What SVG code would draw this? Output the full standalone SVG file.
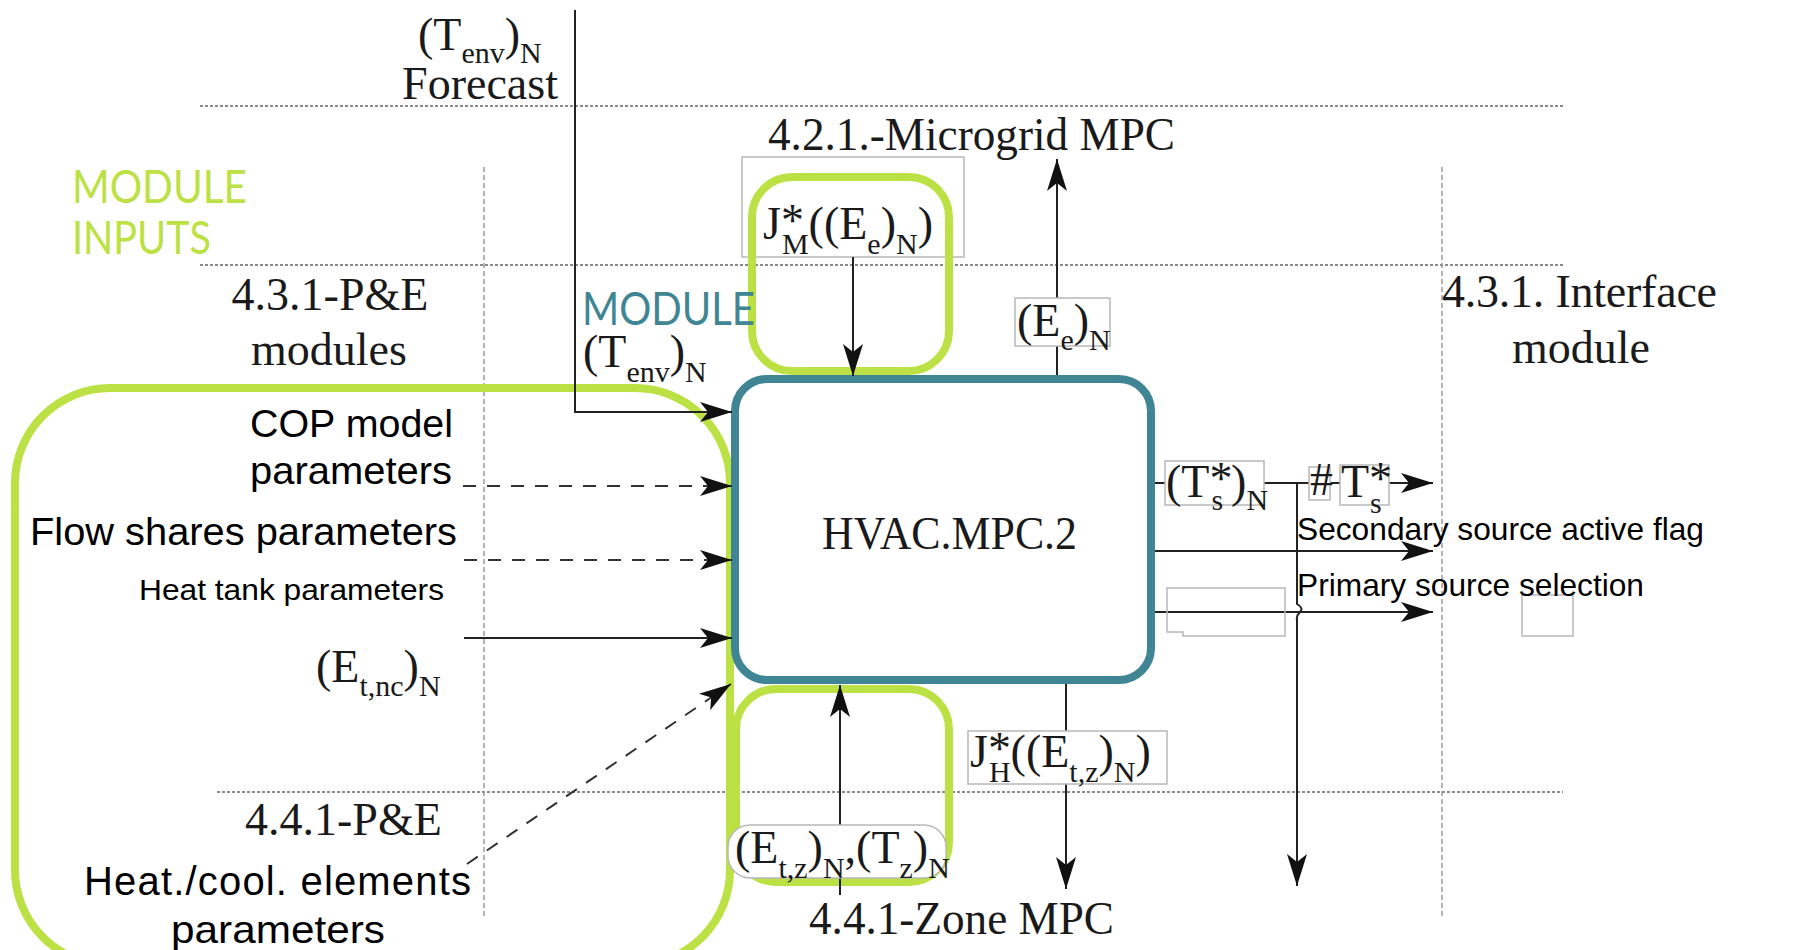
<svg xmlns="http://www.w3.org/2000/svg" width="1800" height="950" viewBox="0 0 1800 950">
<style>
.tm{font-family:"Liberation Serif","Times New Roman",serif;font-size:46px;fill:#1a1a1a}
.sub{font-size:30px}
.ss{font-family:"Liberation Sans",Arial,sans-serif;fill:#000}
.mod{font-family:Lato,"Liberation Sans",sans-serif;font-size:46px}
.dot{stroke:#8a8a8a;stroke-width:2;stroke-dasharray:3 2;fill:none}
.vd{stroke:#9a9a9a;stroke-width:1.5;stroke-dasharray:5 3;fill:none}
.ln{stroke:#222;stroke-width:2;fill:none}
.dash{stroke:#333;stroke-width:2;fill:none;stroke-dasharray:13 11}
.lbl{fill:#fff;stroke:#b8b8b8;stroke-width:1.5}
.gb{fill:none;stroke:#b8b8b8;stroke-width:1.5}
.green{fill:none;stroke:#BCE144;stroke-width:8}
.teal{fill:#fff;stroke:#3F8593;stroke-width:8}
</style>
<defs>
<marker id="arr" markerUnits="userSpaceOnUse" markerWidth="34" markerHeight="22" refX="32" refY="10" orient="auto">
<path d="M0,0 L32,10 L0,20 L8,10 Z" fill="#111" stroke="none"/>
</marker>
</defs>
<rect width="1800" height="950" fill="#fff"/>

<g id="grid">
<line class="dot" x1="200" y1="106" x2="1563" y2="106"/>
<line class="dot" x1="200" y1="265" x2="1563" y2="265"/>
<line class="dot" x1="217" y1="792" x2="1563" y2="792"/>
<line class="vd" x1="484" y1="167" x2="484" y2="918"/>
<line class="vd" x1="1442" y1="167" x2="1442" y2="918"/>
</g>

<g id="module-inputs">
<rect class="green" x="15" y="388" width="715" height="577" rx="95"/>
<text class="mod" x="72" y="203" fill="#BCE144" textLength="175" lengthAdjust="spacingAndGlyphs">MODULE</text>
<text class="mod" x="72" y="254" fill="#BCE144" textLength="139" lengthAdjust="spacingAndGlyphs">INPUTS</text>
</g>

<g id="microgrid-input">
<rect class="gb" x="742" y="157" width="222" height="100"/>
<rect class="green" x="752" y="177" width="197" height="194" rx="40"/>
</g>

<g id="zone-input">
<rect class="green" x="736" y="689" width="213" height="193" rx="40"/>
</g>

<g id="hvac">
<rect class="teal" x="735" y="379" width="416" height="301" rx="32"/>
<text class="tm" x="822" y="549" font-size="43" fill="#222" textLength="255" lengthAdjust="spacingAndGlyphs">HVAC.MPC.2</text>
<text class="mod" x="582" y="325" fill="#3F8593" textLength="173" lengthAdjust="spacingAndGlyphs">MODULE</text>
</g>

<g id="connectors">
<polyline class="ln" points="575,10 575,412 732,412" marker-end="url(#arr)"/>
<line class="dash" x1="463" y1="486" x2="732" y2="486" marker-end="url(#arr)"/>
<line class="dash" x1="464" y1="560" x2="732" y2="560" marker-end="url(#arr)"/>
<line class="ln" x1="464" y1="638" x2="732" y2="638" marker-end="url(#arr)"/>
<line class="dash" x1="467" y1="864" x2="731" y2="684" marker-end="url(#arr)"/>
<line class="ln" x1="853" y1="257" x2="853" y2="376" marker-end="url(#arr)"/>
<line class="ln" x1="1057" y1="375" x2="1057" y2="159" marker-end="url(#arr)"/>
<line class="ln" x1="840" y1="895" x2="840" y2="685" marker-end="url(#arr)"/>
<line class="ln" x1="1066" y1="684" x2="1066" y2="889" marker-end="url(#arr)"/>
<line class="ln" x1="1155" y1="483" x2="1433" y2="483" marker-end="url(#arr)"/>
<line class="ln" x1="1155" y1="551" x2="1433" y2="551" marker-end="url(#arr)"/>
<line class="ln" x1="1155" y1="612" x2="1433" y2="612" marker-end="url(#arr)"/>
<path class="ln" d="M1297,483 V604 Q1304,608 1300,612 Q1296,616 1297,620 V886" marker-end="url(#arr)"/>
</g>

<g id="labels">
<rect class="lbl" x="1015" y="298" width="95" height="48"/>
<text class="tm" x="1017" y="336">(E<tspan class="sub" dy="14">e</tspan><tspan dy="-14">)</tspan><tspan class="sub" dy="14">N</tspan></text>

<text class="tm" x="763" y="239">J<tspan dy="-3">*</tspan><tspan class="sub" dx="-22" dy="18">M</tspan><tspan dy="-15">((E</tspan><tspan class="sub" dy="15">e</tspan><tspan dy="-15">)</tspan><tspan class="sub" dy="15">N</tspan><tspan dy="-15">)</tspan></text>

<rect class="lbl" x="1165" y="461" width="99" height="44"/>
<text class="tm" x="1166" y="497">(T<tspan dy="-3">*</tspan><tspan class="sub" dx="-21" dy="16">s</tspan><tspan dx="8" dy="-13">)</tspan><tspan class="sub" dy="13">N</tspan></text>
<rect class="lbl" x="1309" y="467" width="21" height="33"/>
<text class="tm" x="1310" y="495" font-size="40">#</text>
<rect class="lbl" x="1340" y="465" width="49" height="40"/>
<text class="tm" x="1341" y="497">T<tspan dy="-3">*</tspan><tspan class="sub" dx="-22" dy="19">s</tspan></text>

<polygon class="gb" points="1167,588 1285,588 1285,636 1183,636 1183,632 1167,632"/>
<rect class="gb" x="1522" y="595" width="51" height="41"/>

<rect class="lbl" x="968" y="731" width="199" height="53"/>
<text class="tm" x="970" y="767">J<tspan dy="-3">*</tspan><tspan class="sub" dx="-22" dy="18">H</tspan><tspan dy="-15">((E</tspan><tspan class="sub" dy="15">t,z</tspan><tspan dy="-15">)</tspan><tspan class="sub" dy="15">N</tspan><tspan dy="-15">)</tspan></text>

<rect class="lbl" x="728" y="825" width="218" height="53" rx="22"/>
<text class="tm" x="735" y="863">(E<tspan class="sub" dy="15">t,z</tspan><tspan dy="-15">)</tspan><tspan class="sub" dy="15">N</tspan><tspan dy="-15">,(T</tspan><tspan class="sub" dy="15">z</tspan><tspan dy="-15">)</tspan><tspan class="sub" dy="15">N</tspan></text>

<text class="tm" x="583" y="367">(T<tspan class="sub" dy="15">env</tspan><tspan dy="-15">)</tspan><tspan class="sub" dy="15">N</tspan></text>
<text class="tm" x="418" y="50">(T<tspan class="sub" dy="13">env</tspan><tspan dy="-13">)</tspan><tspan class="sub" dy="13">N</tspan></text>
<text class="tm" x="480" y="99" text-anchor="middle">Forecast</text>
</g>

<g id="section-titles">
<text class="tm" x="768" y="150" textLength="407" lengthAdjust="spacingAndGlyphs">4.2.1.-Microgrid MPC</text>
<text class="tm" x="330" y="310" text-anchor="middle">4.3.1-P&amp;E</text>
<text class="tm" x="329" y="365" text-anchor="middle">modules</text>
<text class="tm" x="1442" y="307" textLength="275" lengthAdjust="spacing">4.3.1. Interface</text>
<text class="tm" x="1581" y="363" text-anchor="middle">module</text>
<text class="tm" x="245" y="835" fill="#333">4.4.1-P&amp;E</text>
<text class="tm" x="809" y="934" textLength="305" lengthAdjust="spacingAndGlyphs">4.4.1-Zone MPC</text>
</g>

<g id="input-texts">
<text class="ss" x="250" y="437" font-size="39" textLength="203" lengthAdjust="spacingAndGlyphs">COP model</text>
<text class="ss" x="250" y="484" font-size="39" textLength="202" lengthAdjust="spacingAndGlyphs">parameters</text>
<text class="ss" x="30" y="545" font-size="38" textLength="427" lengthAdjust="spacingAndGlyphs">Flow shares parameters</text>
<text class="ss" x="139" y="600" font-size="30" textLength="305" lengthAdjust="spacingAndGlyphs">Heat tank parameters</text>
<text class="tm" x="316" y="682">(E<tspan class="sub" dy="14">t,nc</tspan><tspan dy="-14">)</tspan><tspan class="sub" dy="14">N</tspan></text>
<text class="ss" x="84" y="895" font-size="40" textLength="387" lengthAdjust="spacing">Heat./cool. elements</text>
<text class="ss" x="171" y="943" font-size="39" textLength="214" lengthAdjust="spacingAndGlyphs">parameters</text>
</g>

<g id="output-texts">
<text class="ss" x="1297" y="540" font-size="32" textLength="407" lengthAdjust="spacingAndGlyphs">Secondary source active flag</text>
<text class="ss" x="1297" y="596" font-size="32" textLength="347" lengthAdjust="spacingAndGlyphs">Primary source selection</text>
</g>
</svg>
